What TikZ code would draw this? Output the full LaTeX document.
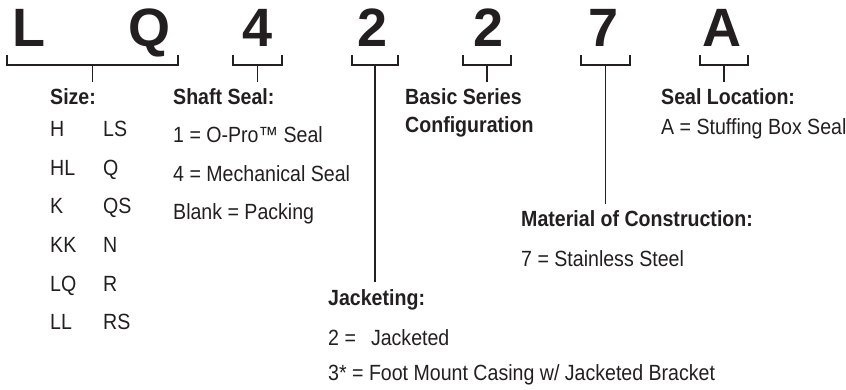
\documentclass[tikz,border=0pt]{standalone}
\usepackage{fontspec}
\setmainfont{Liberation Sans}[FakeStretch=0.89]
\newfontfamily\codefont{Liberation Sans}
\usetikzlibrary{positioning}
\definecolor{ink}{HTML}{231F20}
\tikzset{
	code/.style={font=\codefont\fontsize{54}{54}\selectfont\bfseries, inner sep=0pt, anchor=base, text=ink},
	head/.style={font=\fontsize{22}{26}\selectfont\bfseries, inner sep=0pt, anchor=base west, text=ink},
	entry/.style={font=\fontsize{22}{26}\selectfont, inner sep=0pt, anchor=base west, text=ink},
	brace/.style={line width=1.6pt, draw=ink},
	stem/.style={brace, shorten >=7pt}
}
\begin{document}
\begin{tikzpicture}[x=1pt,y=-1pt]
	\useasboundingbox (0,0) rectangle (846,390);
	%model code
	\node[code] (cL) at (29,47) {L};
	\node[code] (cQ) at (149,47) {Q};
	\node[code] (c4) at (258,47) {4};
	\node[code] (c2a) at (373,47) {2};
	\node[code] (c2b) at (489,47) {2};
	\node[code] (c7) at (604,47) {7};
	\node[code] (cA) at (722,47) {A};
	
	%brackets under the code
	\foreach \n/\l/\r in {sz/7/178, ss/233/282, jk/352/398, bs/463/511, mc/581/630, sl/700/748}
	{
		\draw[brace] (\l,55) -- (\l,65) -- (\r,65) -- (\r,55);
		\coordinate (\n) at ({(\l+\r)/2},65);
	}
	
	%size
	\node[head] (size) at (50,105) {Size:};
	\foreach \a/\b [count=\i] in {H/LS, HL/Q, K/QS, KK/N, LQ/R, LL/RS}
	{
		\node[entry] (sza\i) at (50,137+38.5*\i-38.5) {\a};
		\node[entry] (szb\i) at (103,137+38.5*\i-38.5) {\b};
	}
	\draw[stem] (sz) -- (sz |- size.north);
	
	%shaft seal
	\node[head] (shaft) at (173,105) {Shaft Seal:};
	\node[entry] (ss1) at (173,143) {1 = O-Pro™ Seal};
	\node[entry] (ss2) at (173,182) {4 = Mechanical Seal};
	\node[entry] (ss3) at (173,220) {Blank = Packing};
	\draw[stem] (ss) -- (ss |- shaft.north);
	
	%jacketing
	\node[head] (jacket) at (328,305) {Jacketing:};
	\node[entry] (jk1) at (328,345) {2 = \phantom{*}\hspace{2pt}Jacketed};
	\node[entry] (jk2) at (328,380) {3* = Foot Mount Casing w/ Jacketed Bracket};
	\draw[stem] (jk) -- (jk |- jacket.north);
	
	%basic series
	\node[head] (basic) at (405,105) {Basic Series};
	\node[head] (config) at (405,133) {Configuration};
	\draw[stem] (bs) -- (bs |- basic.north);
	
	%material
	\node[head] (material) at (521,227) {Material of Construction:};
	\node[entry] (mc1) at (521,266) {7 = Stainless Steel};
	\draw[stem] (mc) -- (mc |- material.north);
	
	%seal location
	\node[head] (location) at (661,105) {Seal Location:};
	\node[entry] (sl1) at (661,135) {A = Stuffing Box Seal};
	\draw[stem] (sl) -- (sl |- location.north);
\end{tikzpicture}
\end{document}
